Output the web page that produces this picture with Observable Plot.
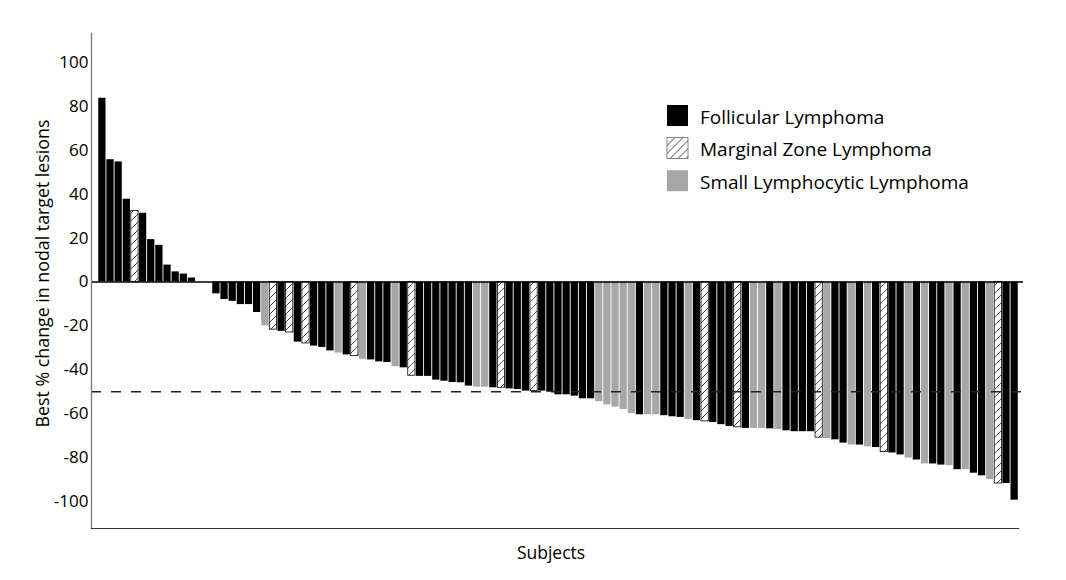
<!DOCTYPE html>
<html><head><meta charset="utf-8">
<script src="https://cdn.jsdelivr.net/npm/d3@7"></script>
<script src="https://cdn.jsdelivr.net/npm/@observablehq/plot@0.6"></script>
<style>body{margin:0;background:#fff;}</style>
</head><body><div id="chart"></div>
<script>
// Best % change in nodal target lesions, one value per subject (sorted waterfall)
const values = [
  83.7, 55.7, 54.7, 37.7, 32.3, 31.3, 19.3, 16.7, 7.7, 4.6,
  3.6, 1.8, 0, 0, -5.4, -8, -8.8, -10.3, -10.3, -13.9,
  -20, -21.7, -22.5, -23, -27.4, -28, -29.2, -29.8, -31.4, -32.4,
  -33.2, -33.8, -35.2, -35.5, -36.4, -36.7, -38.6, -39.1, -42.7, -43,
  -43, -44.7, -45.2, -45.8, -45.9, -47.4, -47.9, -47.9, -48.2, -48.2,
  -48.7, -49, -49.7, -49.7, -49.7, -50.2, -51.4, -51.4, -52, -53.2,
  -53.2, -54.5, -56, -57, -58.1, -60, -60.5, -60.5, -60.5, -60.9,
  -61.4, -61.7, -62.6, -63.2, -63.5, -64, -65, -65.8, -66.2, -66.7,
  -66.7, -66.7, -66.9, -67.2, -67.8, -68.2, -68.2, -68.2, -70.9, -71.3,
  -71.9, -73.4, -74.3, -74.3, -75.1, -75.4, -77.5, -77.9, -78.8, -80.2,
  -81.1, -82.9, -82.9, -83.4, -83.7, -85.5, -85.5, -87.1, -88.3, -90,
  -91.8, -91.8, -99.4
];
// F = Follicular, M = Marginal Zone, S = Small Lymphocytic
const types = [
  "F","F","F","F","M","F","F","F","F","F",
  "F","F","F","F","F","F","F","F","F","F",
  "S","M","F","M","F","M","F","F","F","S",
  "F","M","S","F","F","F","S","F","M","F",
  "F","F","F","F","F","F","S","S","F","M",
  "F","F","F","M","F","F","F","F","F","F",
  "F","S","S","S","S","S","F","S","S","F",
  "F","F","S","F","M","F","F","F","M","F",
  "S","S","F","S","F","F","F","F","M","S",
  "F","F","S","F","S","F","M","F","F","S",
  "F","S","F","F","S","F","S","F","F","S",
  "M","F","F"
];
const typeCodes = ["F", "M", "S"];
const typeNames = ["Follicular Lymphoma", "Marginal Zone Lymphoma", "Small Lymphocytic Lymphoma"];
const yTicks = [-100, -80, -60, -40, -20, 0, 20, 40, 60, 80, 100];
const threshold = [-50];
const yLabel = ["Best % change in nodal target lesions"];
const xLabel = ["Subjects"];

const fills = {F: "#000", M: "url(#hatch)", S: "#a7a7aa"};
const data = values.map((v, i) => ({subject: i + 1, value: v, type: types[i]}));

const plot = Plot.plot({
  width: 1066, height: 580,
  marginLeft: 91, marginRight: 48, marginTop: 33, marginBottom: 52,
  style: {fontFamily: "'Open Sans', sans-serif", fontSize: "17px", color: "#000", background: "#fff"},
  x: {type: "band", domain: data.map(d => d.subject), range: [98, 1018], round: false, paddingInner: 0.11, paddingOuter: 0.03},
  y: {domain: [-112.3, 113.2]},
  marks: [
    Plot.rectY(data.filter(d => d.type === "F"), {x: "subject", y: "value", fill: fills.F}),
    Plot.rectY(data.filter(d => d.type === "S"), {x: "subject", y: "value", fill: fills.S}),
    Plot.rectY(data.filter(d => d.type === "M"), {x: "subject", y: "value", fill: fills.M, stroke: "#000", strokeWidth: 0.8}),
    Plot.ruleY([0], {stroke: "#000", strokeWidth: 1.6, insetRight: -5}),
    Plot.ruleY(threshold, {stroke: "#222", strokeWidth: 1.4, strokeDasharray: "10,10", insetRight: -4}),
    Plot.frame({anchor: "left", stroke: "#777", strokeWidth: 1.3}),
    Plot.frame({anchor: "bottom", stroke: "#333", strokeWidth: 1.2}),
    Plot.axisY({ticks: yTicks, tickSize: 0, tickPadding: 3, fontSize: 17, tickFormat: d => String(d), label: null}),
    Plot.axisX({ticks: [], tickSize: 0, label: null}),
    Plot.text(yLabel, {text: d => d, frameAnchor: "left", textAnchor: "middle", rotate: -90, dx: -48, dy: -7.5, fontSize: 17.8, fill: "#000"}),
    Plot.text(xLabel, {text: d => d, frameAnchor: "bottom", textAnchor: "middle", dx: -4, dy: 30, fontSize: 17.5, fill: "#000"})
  ]
});

const svg = d3.select(plot);
const defs = svg.insert("defs", ":first-child");
const pat = defs.append("pattern").attr("id", "hatch").attr("patternUnits", "userSpaceOnUse")
  .attr("width", 8).attr("height", 8);
pat.append("rect").attr("width", 8).attr("height", 8).attr("fill", "#fff");
pat.append("path").attr("d", "M0,8L8,0M-2,2L2,-2M6,10L10,6").attr("stroke", "#000").attr("stroke-width", 0.7);

const leg = svg.append("g").attr("transform", "translate(667,105)");
typeCodes.forEach((c, i) => {
  const g = leg.append("g").attr("transform", `translate(0,${i * 32.6})`);
  g.append("rect").attr("width", 21).attr("height", 21).attr("fill", fills[c])
    .attr("stroke", c === "M" ? "#666" : "none").attr("stroke-width", 0.8);
  g.append("text").attr("x", 33).attr("y", 11.5).attr("dominant-baseline", "central")
    .attr("text-anchor", "start").attr("font-size", 19).attr("fill", "#000").text(typeNames[i]);
});

document.getElementById("chart").appendChild(plot);
</script>
</body></html>
